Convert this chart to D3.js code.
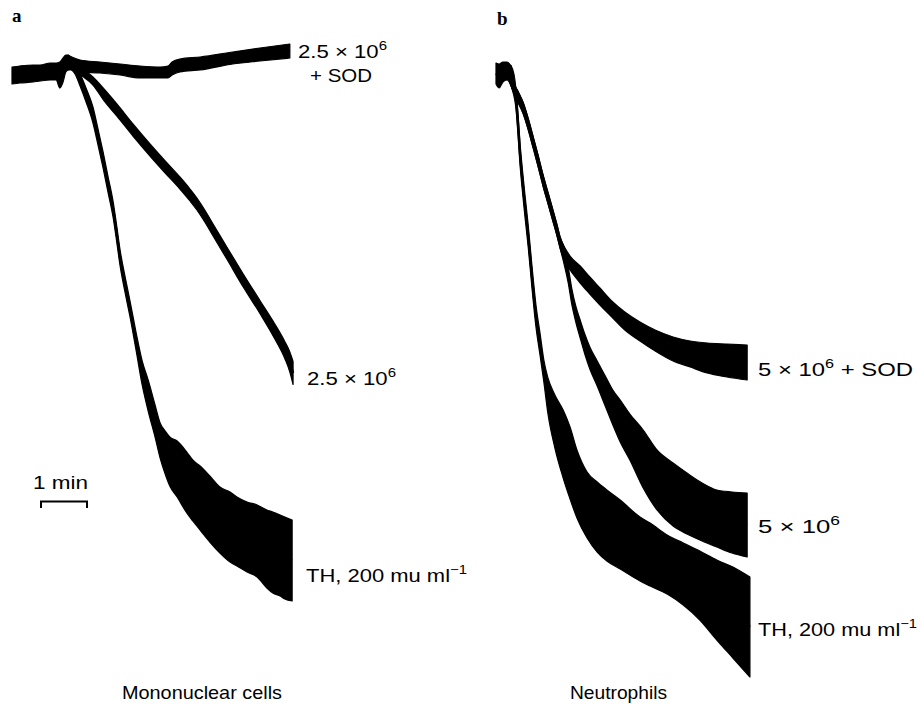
<!DOCTYPE html>
<html><head><meta charset="utf-8">
<script src="https://cdn.jsdelivr.net/npm/d3@7"></script>
<style>body{margin:0;background:#fff;} svg{display:block;}</style>
</head><body><svg id="c" width="918" height="704"></svg>
<script>
// ---- DATA: each trace = [time (min), upper envelope, lower envelope] (arbitrary signal units)
// Panel a — mononuclear cells
const aBaseline = [
  [0.00,124.6,121.2],[0.17,124.8,121.4],[0.46,125.0,121.6],[0.61,125.0,121.8],
  [0.83,125.4,122.0],[0.96,125.4,122.0],[1.04,125.6,120.4],[1.11,126.4,121.6],
  [1.17,127.0,123.6],[1.22,127.0,124.0]
];
const aSOD = [
  [1.22,127.0,124.0],[1.30,126.6,124.0],[1.48,126.0,123.6],[1.91,125.6,123.4],
  [2.35,125.2,123.0],[2.78,124.8,122.4],[3.22,124.6,122.4],[3.39,124.8,122.4],
  [3.48,125.6,123.0],[3.65,126.2,123.6],[4.09,126.6,124.0],[4.80,127.6,125.2],
  [5.39,128.4,125.8],[6.04,129.2,126.4]
];
const aCells = [
  [1.22,126.0,124.8],[1.48,124.5,123.1],[1.76,122.6,121.0],[2.02,120.0,117.6],
  [2.28,117.2,114.8],[2.63,113.2,110.8],[3.00,109.2,106.8],[3.33,105.8,103.4],
  [3.65,102.6,100.2],[3.87,100.2,97.8],[4.02,98.4,96.0],[4.15,96.6,94.2],
  [4.41,92.6,90.2],[4.67,88.6,86.2],[5.02,83.3,80.7],[5.39,77.9,75.3],
  [5.72,73.1,70.1],[5.93,69.7,66.3],[6.04,67.6,63.6],[6.11,65.7,61.1]
];
const aTH = [
  [1.22,126.2,124.6],[1.30,125.6,124.0],[1.37,124.8,123.2],[1.48,123.2,120.8],
  [1.61,120.4,117.6],[1.76,116.6,113.4],[1.87,112.2,109.0],[1.98,107.6,104.4],
  [2.09,102.6,99.4],[2.20,97.6,94.4],[2.28,92.6,89.4],[2.35,88.0,84.8],
  [2.46,82.6,79.4],[2.57,77.6,74.4],[2.70,71.4,67.8],[2.83,65.8,61.0],
  [2.96,62.0,55.8],[3.11,57.0,50.6],[3.22,53.4,46.4],[3.33,51.8,43.2],
  [3.43,50.6,40.8],[3.59,49.8,38.6],[3.80,47.6,35.4],[3.93,46.0,33.8],
  [4.09,44.8,32.0],[4.30,42.8,29.6],[4.52,40.6,27.4],[4.74,39.6,25.6],
  [4.89,38.6,24.8],[5.11,37.6,23.6],[5.33,37.0,22.6],[5.54,36.0,20.4],
  [5.67,35.6,19.4],[5.83,35.0,18.8],[5.93,34.6,18.2],[6.09,34.0,17.8]
];
// Panel b — neutrophils
const bBaseline = [
  [0.00,125.4,121.2],[0.07,125.2,120.4],[0.15,125.6,121.6],[0.24,125.6,122.0],
  [0.33,124.8,120.8]
];
const bCellsEarly = [
  [0.33,124.8,120.8],[0.39,121.5,119.3],[0.48,119.7,117.5],[0.59,117.5,115.3],
  [0.70,114.3,112.1],[0.80,110.9,108.7],[0.91,107.1,104.9],[1.02,103.1,100.9],
  [1.13,99.5,97.3],[1.24,95.9,93.7],[1.33,92.9,90.7],[1.39,90.7,88.5]
];
const bCellsLate = [
  [1.48,88.4,85.2],[1.57,84.6,81.4],[1.65,80.2,77.0],[1.74,76.6,73.4],
  [1.83,74.0,70.4],[1.93,71.2,67.2],[2.04,68.6,64.2],[2.20,65.8,60.8],
  [2.37,62.9,56.9],[2.54,60.0,53.0],[2.70,58.0,49.6],[2.91,55.2,46.0],
  [3.20,52.0,40.4],[3.50,48.0,36.0],[3.85,45.4,32.8],[4.15,43.4,31.2],
  [4.48,41.4,29.8],[4.80,40.0,28.6],[5.13,39.6,27.4],[5.46,39.4,26.6]
];
const bSODLate = [
  [1.50,88.4,85.6],[1.61,86.8,84.0],[1.83,84.8,81.4],[2.04,82.6,79.2],
  [2.26,80.4,77.0],[2.54,77.6,74.4],[2.80,75.6,72.0],[3.13,73.6,69.8],
  [3.46,72.0,67.8],[3.85,70.6,65.8],[4.22,69.8,64.6],[4.59,69.4,63.4],
  [5.02,69.2,62.6],[5.46,69.0,62.0]
];
const bTH = [
  [0.33,124.8,120.8],[0.39,123.2,118.8],[0.43,120.6,116.6],[0.48,115.2,110.8],
  [0.52,109.7,105.3],[0.57,104.5,100.1],[0.63,99.0,94.6],[0.70,93.0,88.6],
  [0.78,85.0,80.6],[0.87,76.9,72.5],[0.96,71.2,66.8],[1.04,66.0,61.6],
  [1.13,62.4,55.2],[1.28,59.0,48.4],[1.46,56.0,42.4],[1.61,52.6,38.2],
  [1.76,48.0,34.4],[1.98,43.6,30.4],[2.20,41.6,27.6],[2.41,40.0,25.8],
  [2.70,38.0,24.2],[3.13,34.6,21.8],[3.35,33.4,20.8],[3.72,31.0,19.2],
  [4.07,29.4,17.0],[4.43,27.8,14.0],[4.80,26.0,10.0],[5.15,24.6,6.4],
  [5.52,22.6,2.6]
];
const bCells = bCellsEarly.concat(bCellsLate);
const bSOD = bCellsEarly.concat(bSODLate);

const panelLetters = ["a","b"];
const panelTitles = ["Mononuclear cells","Neutrophils"];
const scaleBarMinutes = [0.62, 1.62];

// ---- DRAWING
const svg = d3.select('#c');
const y = d3.scaleLinear().domain([0,130]).range([690,40]);
const xA = d3.scaleLinear().domain([0,6.2]).range([12,12+6.2*46]);
const xB = d3.scaleLinear().domain([0,5.6]).range([496,496+5.6*46]);

function drawTrace(x, data){
  const area = d3.area().curve(d3.curveMonotoneX)
    .x(d=>x(d[0])).y0(d=>y(d[2])).y1(d=>y(d[1]));
  svg.append('path').datum(data).attr('d',area)
    .attr('fill','#000').attr('stroke','#000').attr('stroke-width',1.2)
    .attr('stroke-linejoin','round');
  const line = d3.line().curve(d3.curveMonotoneX)
    .x(d=>x(d[0])).y(d=>y((d[1]+d[2])/2));
  svg.append('path').datum(data).attr('d',line)
    .attr('fill','none').attr('stroke','#000').attr('stroke-width',2.4);
}
[aBaseline,aSOD,aCells,aTH].forEach(d=>drawTrace(xA,d));
[bBaseline,bSOD,bCells,bTH].forEach(d=>drawTrace(xB,d));

// scale bar (1 min) via axis
const sb = d3.scaleLinear().domain(scaleBarMinutes).range(scaleBarMinutes.map(xA));
const gsb = svg.append('g').attr('transform','translate(0,501)')
  .call(d3.axisBottom(sb).tickValues([]).tickSizeOuter(7));
gsb.select('.domain').attr('stroke','#000').attr('stroke-width',2);

const FONT = "'Liberation Sans', Arial, sans-serif";
function label(x, yy, parts, len){
  const t = svg.append('text').attr('x',x).attr('y',yy)
    .attr('font-family',FONT).attr('font-size',18.5).attr('fill','#000');
  parts.forEach(p=>{
    const ts = t.append('tspan').text(p[0]);
    if(p[1]==='sup'){ ts.attr('font-size',12.5).attr('dy',-8); }
    if(p[1]==='base'){ ts.attr('dy',8); }
  });
  if(len) t.attr('textLength',len).attr('lengthAdjust','spacingAndGlyphs');
  return t;
}
// panel a labels
label(298,58,[["2.5 × 10"],["6",'sup']],89);
label(310,82,[["+ SOD"]],62);
label(307,385,[["2.5 × 10"],["6",'sup']],89);
label(306,582,[["TH, 200 mu ml"],["−1",'sup']],161);
label(33,489,[["1 min"]],55);
label(122,699,[[panelTitles[0]]],160);
// panel b labels
label(758,376,[["5 × 10"],["6",'sup'],[" + SOD",'base']],155);
label(758,533,[["5 × 10"],["6",'sup']],82);
label(758,636,[["TH, 200 mu ml"],["−1",'sup']],159);
label(570,699,[[panelTitles[1]]],97);

svg.append('text').attr('x',12).attr('y',22).text(panelLetters[0])
  .attr('font-family',"'Liberation Serif', serif").attr('font-weight','bold').attr('font-size',19);
svg.append('text').attr('x',497).attr('y',25).text(panelLetters[1])
  .attr('font-family',"'Liberation Serif', serif").attr('font-weight','bold').attr('font-size',19);
</script></body></html>
